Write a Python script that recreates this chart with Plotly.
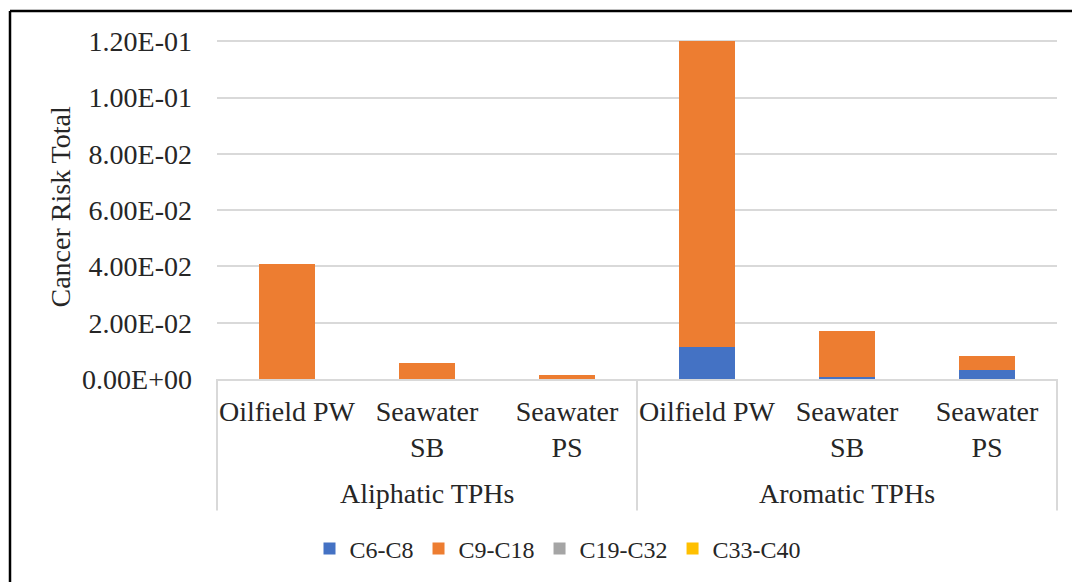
import plotly.graph_objects as go

# Category structure
groups = ["Aliphatic TPHs", "Aromatic TPHs"]
samples = ["Oilfield PW", "Seawater<br>SB", "Seawater<br>PS"]

# Cancer risk by carbon range (3 aliphatic samples, then 3 aromatic samples)
c6_c8 = [0.0, 0.0, 0.0, 0.0115, 0.0008, 0.0032]
c9_c18 = [0.0410, 0.0056, 0.0015, 0.1088, 0.0161, 0.0049]
c19_c32 = [0.0, 0.0, 0.0, 0.0, 0.0, 0.0]
c33_c40 = [0.0, 0.0, 0.0, 0.0, 0.0, 0.0]

series = [
    ("C6-C8", c6_c8, "#4472C4"),
    ("C9-C18", c9_c18, "#ED7D31"),
    ("C19-C32", c19_c32, "#A5A5A5"),
    ("C33-C40", c33_c40, "#FFC000"),
]

FONT = "Liberation Serif"
TXT = "#262626"
GRID = "#D9D9D9"
W, H = 1072, 582
L, R, T, B = 217, 15, 40, 202
pw, ph = W - L - R, H - T - B

# one unique category key per bar, labelled with the sample name
keys = [f"{g}|{s}" for g in groups for s in samples]
labels = [s for g in groups for s in samples]


def px_x(p):
    return (p - L) / pw


def px_y(p):
    return (H - B - p) / ph


fig = go.Figure()
for name, vals, color in series:
    fig.add_trace(go.Bar(
        x=keys, y=vals, name=name,
        marker=dict(color=color, line=dict(width=0)),
    ))

# group dividers below the axis
for xp in (0.0, 0.5, 1.0):
    fig.add_shape(type="line", xref="paper", yref="paper",
                  x0=xp, x1=xp, y0=0, y1=px_y(512),
                  line=dict(color=GRID, width=2))

# group labels
for i, g in enumerate(groups):
    fig.add_annotation(text=g, xref="paper", yref="paper",
                       x=0.25 + 0.5 * i, y=px_y(495), xanchor="center", yanchor="middle",
                       showarrow=False, font=dict(family=FONT, size=28, color=TXT))

# y-axis title
fig.add_annotation(text="Cancer Risk Total", xref="paper", yref="paper",
                   x=px_x(61), y=px_y(208), xanchor="center", yanchor="middle",
                   textangle=-90, showarrow=False,
                   font=dict(family=FONT, size=28, color=TXT))

# outer frame (left and top edges)
fig.add_shape(type="line", xref="paper", yref="paper",
              x0=px_x(10), x1=px_x(10), y0=px_y(600), y1=px_y(11),
              line=dict(color="black", width=2.5))
fig.add_shape(type="line", xref="paper", yref="paper",
              x0=px_x(10), x1=px_x(1100), y0=px_y(11), y1=px_y(11),
              line=dict(color="black", width=2.5))

fig.update_layout(
    width=W, height=H,
    margin=dict(l=L, r=R, t=T, b=B),
    plot_bgcolor="white", paper_bgcolor="white",
    barmode="stack", bargap=0.6,
    font=dict(family=FONT, size=28, color=TXT),
    showlegend=True,
    legend=dict(orientation="h", x=px_x(558), xanchor="center",
                y=px_y(549), yanchor="middle",
                font=dict(family=FONT, size=24, color=TXT),
                itemwidth=30, traceorder="normal"),
)
fig.update_xaxes(
    type="category", tickvals=keys, ticktext=labels,
    showline=True, linecolor=GRID, linewidth=2,
    showgrid=False, ticks="", ticklabelstandoff=6,
    tickfont=dict(size=28, family=FONT, color=TXT),
)
fig.update_yaxes(
    range=[0, 0.1205], tickvals=[0, 0.02, 0.04, 0.06, 0.08, 0.10, 0.12],
    ticktext=["0.00E+00", "2.00E-02", "4.00E-02", "6.00E-02", "8.00E-02", "1.00E-01", "1.20E-01"],
    showgrid=True, gridcolor=GRID, gridwidth=2,
    zeroline=False, showline=False, ticks="", ticklabelstandoff=24,
    tickfont=dict(size=28, family=FONT, color=TXT),
)

fig.write_html("out.html")
